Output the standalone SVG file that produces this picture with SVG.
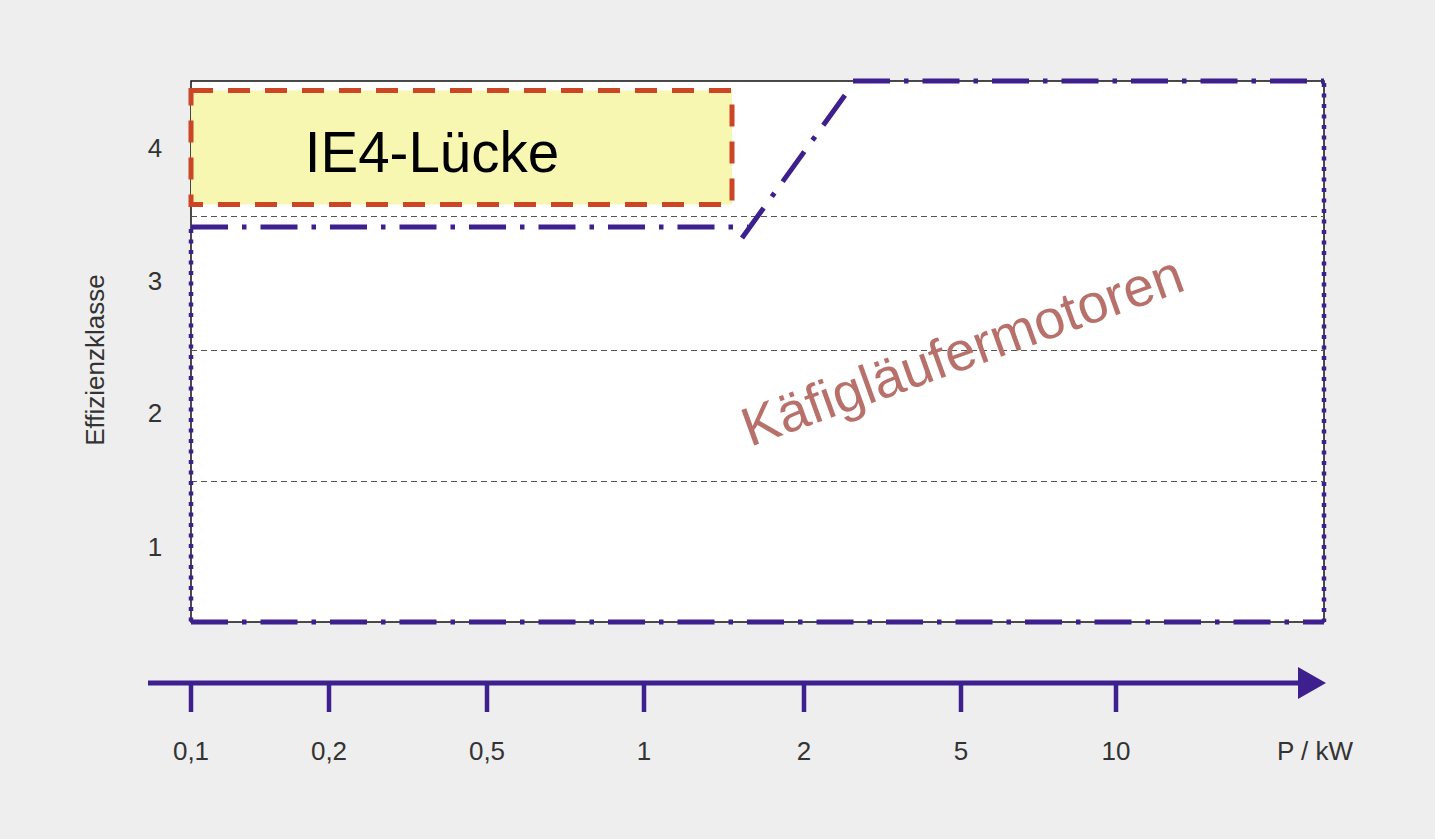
<svg xmlns="http://www.w3.org/2000/svg" width="1435" height="839" viewBox="0 0 1435 839">
<style>
.lbl{font-family:"Liberation Sans",Arial,sans-serif;font-size:26px;fill:#333333}
.grid{stroke:#555555;stroke-width:1;stroke-dasharray:6 4;fill:none}
.dd{stroke:#3d1f8e;stroke-width:5;stroke-dasharray:37 14 4.5 14;fill:none;stroke-linecap:butt}
.dot{stroke:#3d1f8e;stroke-width:4.5;stroke-dasharray:4 6.5;fill:none}
.tick{stroke:#3d1f8e;stroke-width:4.5}
</style>
<defs>
<marker id="arr" viewBox="0 0 10 10" refX="0" refY="5" markerWidth="28" markerHeight="32" markerUnits="userSpaceOnUse" orient="auto" preserveAspectRatio="none">
<path d="M0,0 L10,5 L0,10 Z" fill="#3d1f8e"/>
</marker>
</defs>
<rect width="1435" height="839" fill="#eeeeee"/>
<g id="plot">
<rect x="191" y="81" width="1133" height="541" fill="#ffffff" stroke="#111" stroke-width="1.5"/>
<line class="grid" x1="191" y1="216.5" x2="1324" y2="216.5"/>
<line class="grid" x1="191" y1="350.5" x2="1324" y2="350.5"/>
<line class="grid" x1="191" y1="481.5" x2="1324" y2="481.5"/>
<text class="lbl" x="155" y="157" text-anchor="middle">4</text>
<text class="lbl" x="155" y="290" text-anchor="middle">3</text>
<text class="lbl" x="155" y="422" text-anchor="middle">2</text>
<text class="lbl" x="155" y="556" text-anchor="middle">1</text>
<text class="lbl" x="0" y="0" text-anchor="middle" font-size="27" transform="translate(104 360) rotate(-90)">Effizienzklasse</text>
</g>
<g id="region">
<line class="dd" x1="191" y1="227" x2="748" y2="227"/>
<line class="dd" x1="742" y1="238" x2="853" y2="84"/>
<line class="dd" x1="853" y1="81" x2="1324" y2="81"/>
<line class="dd" x1="191" y1="622" x2="1324" y2="622"/>
<line class="dot" x1="191" y1="229" x2="191" y2="622"/>
<line class="dot" x1="1324" y1="83" x2="1324" y2="622"/>
<text x="0" y="0" font-family="Liberation Sans, Arial, sans-serif" font-size="55" fill="#b8716a" transform="translate(750 447) rotate(-19.8)">Käfigläufermotoren</text>
</g>
<g id="ie4-box">
<rect x="191" y="90.5" width="541" height="114" fill="#f7f7b2" stroke="#cc4626" stroke-width="5" stroke-dasharray="22 15"/>
<text x="432" y="172" text-anchor="middle" font-family="Liberation Sans, Arial, sans-serif" font-size="56.5" fill="#000">IE4-Lücke</text>
</g>
<g id="connectors">
<line x1="148" y1="683" x2="1298" y2="683" stroke="#3d1f8e" stroke-width="5" marker-end="url(#arr)"/>
</g>
<g id="x-axis">
<line class="tick" x1="191" y1="683" x2="191" y2="712"/>
<line class="tick" x1="329" y1="683" x2="329" y2="712"/>
<line class="tick" x1="487" y1="683" x2="487" y2="712"/>
<line class="tick" x1="644" y1="683" x2="644" y2="712"/>
<line class="tick" x1="804" y1="683" x2="804" y2="712"/>
<line class="tick" x1="961" y1="683" x2="961" y2="712"/>
<line class="tick" x1="1116" y1="683" x2="1116" y2="712"/>
<text class="lbl" x="191" y="760" text-anchor="middle">0,1</text>
<text class="lbl" x="329" y="760" text-anchor="middle">0,2</text>
<text class="lbl" x="487" y="760" text-anchor="middle">0,5</text>
<text class="lbl" x="644" y="760" text-anchor="middle">1</text>
<text class="lbl" x="804" y="760" text-anchor="middle">2</text>
<text class="lbl" x="961" y="760" text-anchor="middle">5</text>
<text class="lbl" x="1116" y="760" text-anchor="middle">10</text>
<text class="lbl" x="1315" y="760" text-anchor="middle">P / kW</text>
</g>
</svg>
